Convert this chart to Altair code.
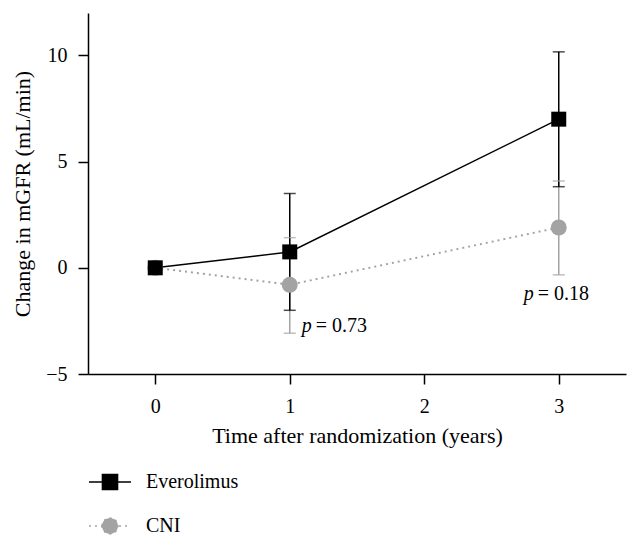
import altair as alt
import pandas as pd

# ---- data ----
series_names = ["Everolimus", "CNI"]
series_colors = ["#000000", "#a3a3a3"]
time_years = [0, 1, 3]
evero_mean = [0.0, 0.75, 7.0]
evero_lo = [None, -2.0, 3.82]
evero_hi = [None, 3.5, 10.17]
cni_mean = [0.0, -0.8, 1.9]
cni_lo = [None, -3.08, -0.33]
cni_hi = [None, 1.42, 4.09]

ann_time = [1, 3]
ann_value = [-2.75, -1.25]
ann_text = ["= 0.73", "= 0.18"]

FONT = "Liberation Serif"
BLACK, GREY = series_colors

rows = []
for name, m, lo, hi in [("Everolimus", evero_mean, evero_lo, evero_hi),
                        ("CNI", cni_mean, cni_lo, cni_hi)]:
    for t, mv, l, h in zip(time_years, m, lo, hi):
        rows.append({"series": name, "time": t, "mean": mv, "lo": l, "hi": h})
df = pd.DataFrame(rows)

ann = pd.DataFrame({"time": ann_time, "value": ann_value, "text": ann_text,
                    "which": ["a", "b"]})

xscale = alt.Scale(domain=[-0.5, 3.5], nice=False)
yscale = alt.Scale(domain=[-5, 12], nice=False)
xax = alt.Axis(values=[0, 1, 2, 3], format="d", title="Time after randomization (years)",
               labelPadding=12, titlePadding=9)
yax = alt.Axis(values=[-5, 0, 5, 10], format="d", title="Change in mGFR (mL/min)",
               labelPadding=11, titlePadding=11)

base = alt.Chart(df)
X = alt.X("time:Q", scale=xscale, axis=xax)
Y = alt.Y("mean:Q", scale=yscale, axis=yax)
YLO = alt.Y("lo:Q", scale=yscale, axis=yax)
YHI = alt.Y("hi:Q", scale=yscale, axis=yax)

ev = base.transform_filter("datum.series == 'Everolimus'")
cn = base.transform_filter("datum.series == 'CNI'")
ev_eb = ev.transform_filter("datum.lo != null")
cn_eb = cn.transform_filter("datum.lo != null")

layers = [
    cn_eb.mark_rule(strokeWidth=1.5, color=GREY).encode(x=X, y=YLO, y2="hi:Q"),
    ev_eb.mark_rule(strokeWidth=1.5, color=BLACK).encode(x=X, y=YLO, y2="hi:Q"),
    cn_eb.mark_tick(orient="horizontal", size=12, thickness=1.5, color=GREY).encode(x=X, y=YLO),
    cn_eb.mark_tick(orient="horizontal", size=12, thickness=1.5, color=GREY).encode(x=X, y=YHI),
    ev_eb.mark_tick(orient="horizontal", size=12, thickness=1.5, color=BLACK).encode(x=X, y=YLO),
    ev_eb.mark_tick(orient="horizontal", size=12, thickness=1.5, color=BLACK).encode(x=X, y=YHI),
    cn.mark_line(color=GREY, strokeWidth=2, strokeDash=[2, 4]).encode(x=X, y=Y),
    ev.mark_line(color=BLACK, strokeWidth=1.5).encode(x=X, y=Y),
    cn.mark_point(filled=True, opacity=1, size=256, shape="circle", color=GREY).encode(x=X, y=Y),
    ev.mark_point(filled=True, opacity=1, size=225, shape="square", color=BLACK).encode(x=X, y=Y),
]

# legend carrier (no visible marks, only the legend)
sq = "M-1,0H1M-0.36,-0.36H0.36V0.36H-0.36Z"
ci = "M-1,0H1M-0.38,0A0.38,0.38,0,1,1,0.38,0A0.38,0.38,0,1,1,-0.38,0Z"
leg = alt.Legend(title=None, orient="none", legendX=0, legendY=447, direction="vertical",
                 labelFont=FONT, labelFontSize=20, labelColor="black", labelOffset=14,
                 symbolSize=1764, rowPadding=11, padding=0, symbolStrokeWidth=1.5)
legend_layer = base.transform_filter("datum.series == 'none'").mark_point(
    strokeWidth=1.5, opacity=1, size=1764).encode(
    x=X, y=Y,
    fill=alt.Fill("series:N", scale=alt.Scale(domain=series_names, range=series_colors), legend=leg),
    stroke=alt.Stroke("series:N", scale=alt.Scale(domain=series_names, range=series_colors), legend=leg),
    shape=alt.Shape("series:N", scale=alt.Scale(domain=series_names, range=[sq, ci]), legend=leg),
    strokeDash=alt.StrokeDash("series:N", scale=alt.Scale(domain=series_names, range=[[1, 0], [2, 4]]), legend=leg),
)
layers.append(legend_layer)

abase = alt.Chart(ann)
AX = alt.X("time:Q", scale=xscale)
AY = alt.Y("value:Q", scale=yscale)
for w, dxp, dxt in [("a", 12, 26), ("b", -35, -21)]:
    sub = abase.transform_filter(f"datum.which == '{w}'")
    layers.append(sub.mark_text(text="p", font=FONT, fontSize=20, fontStyle="italic", align="left",
                                baseline="middle", dx=dxp, color="black").encode(x=AX, y=AY))
    layers.append(sub.mark_text(font=FONT, fontSize=20, align="left", baseline="middle",
                                dx=dxt, color="black").encode(x=AX, y=AY, text="text:N"))

chart = alt.layer(*layers).properties(
    width=538, height=361,
    padding={"left": 3, "top": 5, "right": 5, "bottom": 5},
).configure_view(stroke=None).configure_axis(
    grid=False, labelFont=FONT, titleFont=FONT, labelFontSize=20, titleFontSize=22,
    titleFontWeight="normal", labelColor="black", titleColor="black",
    domainColor="black", domainWidth=1.5, tickColor="black", tickWidth=1.5, tickSize=10,
)

chart.save("out.html", embed_options={"renderer": "svg", "actions": False})
